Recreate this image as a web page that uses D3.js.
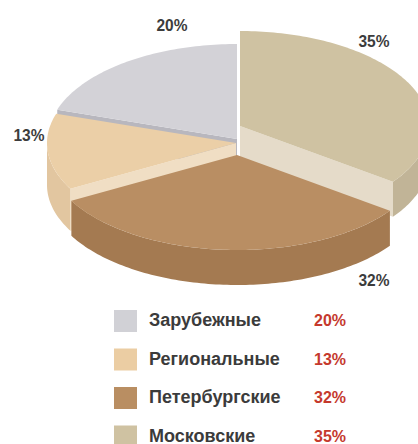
<!DOCTYPE html>
<html>
<head>
<meta charset="utf-8">
<script src="https://cdn.jsdelivr.net/npm/d3@7"></script>
<style>
  html, body { margin: 0; padding: 0; background: #ffffff; }
  svg { display: block; }
</style>
</head>
<body>
<div id="chart"></div>
<script>
// Structure of the readership, shares in percent
const categories = ["Зарубежные", "Региональные", "Петербургские", "Московские"];
const shares = [20, 13, 32, 35];

// Presentation: one entry per category, same order as above
const topColors  = ["#d3d2d7", "#ebcfa7", "#b98e63", "#cfc2a2"];
const wallColors = ["#bebdc3", "#e2c6a0", "#a47a51", "#c1b497"];
const faceColors = ["#b8b7be", "#f0dec4", "#9c744d", "#e5dbc9"];
const legendColors = ["#d1d1d6", "#ebcda3", "#b98e62", "#cfc2a2"];

const W = 418, H = 444;
const pieCx = 237, pieCy = 139, rx = 189, ry = 95;
// per-slice lift/explode and thickness
const sliceShift = [
  { dx: 0,  dy: 0,   depth: 30 },
  { dx: -1, dy: 4,   depth: 42 },
  { dx: 0,  dy: 16,  depth: 35 },
  { dx: 3,  dy: -13, depth: 35 }
];
// painter's order: back to front
const drawOrder = [0, 1, 3, 2];
// label anchors relative to the pie centre
const labelOffset = [[-65, -108], [-208, 2], [137, 147], [137, -92]];

const svg = d3.select("#chart").append("svg")
  .attr("width", W).attr("height", H);

// counter-clockwise from 12 o'clock keeps legend order
const pie = d3.pie().sort(null).startAngle(2 * Math.PI).endAngle(0);
const arcs = pie(shares).map((a, i) => {
  const a0 = Math.min(a.startAngle, a.endAngle);
  const a1 = Math.max(a.startAngle, a.endAngle);
  return { i, a0, a1, value: a.value };
});

function pt(s, t, down) {
  return [pieCx + s.dx + rx * Math.sin(t), pieCy + s.dy - ry * Math.cos(t) + (down || 0)];
}
function arcPts(s, t0, t1, down) {
  const n = Math.max(2, Math.ceil(Math.abs(t1 - t0) / 0.02));
  return d3.range(n + 1).map(k => pt(s, t0 + (t1 - t0) * k / n, down));
}
const line = d3.line().curve(d3.curveLinear);

const g = svg.append("g");

drawOrder.forEach(i => {
  const a = arcs[i];
  const s = sliceShift[i];
  const c = [pieCx + s.dx, pieCy + s.dy];

  // radial side faces facing the viewer
  [[a.a0, -1], [a.a1, 1]].forEach(([t, sign]) => {
    const ny = sign * Math.sin(t);
    if (ny > 1e-6) {
      const e = pt(s, t);
      const quad = [c, e, [e[0], e[1] + s.depth], [c[0], c[1] + s.depth]];
      g.append("path").attr("d", line(quad) + "Z").attr("fill", faceColors[i]);
    }
  });

  // outer wall on the front half
  const w0 = Math.max(a.a0, Math.PI / 2), w1 = Math.min(a.a1, 3 * Math.PI / 2);
  if (w1 > w0) {
    const topEdge = arcPts(s, w0, w1, 0);
    const botEdge = arcPts(s, w1, w0, s.depth);
    g.append("path").attr("d", line(topEdge.concat(botEdge)) + "Z")
      .attr("fill", wallColors[i]);
  }

  // top surface
  const topPts = [c].concat(arcPts(s, a.a0, a.a1, 0));
  g.append("path").attr("d", line(topPts) + "Z").attr("fill", topColors[i]);
});

// value labels around the pie
const labelFont = "'Liberation Sans', Arial, sans-serif";
arcs.forEach(a => {
  svg.append("text")
    .attr("x", pieCx + labelOffset[a.i][0])
    .attr("y", pieCy + labelOffset[a.i][1])
    .attr("text-anchor", "middle")
    .attr("font-family", labelFont)
    .attr("font-weight", "bold")
    .attr("font-size", 17)
    .attr("textLength", 31)
    .attr("lengthAdjust", "spacingAndGlyphs")
    .attr("fill", "#3c3c3c")
    .text(a.value + "%");
});

// legend
const legendY = d3.scaleLinear().domain([0, 3]).range([310, 425.5]);
const legend = svg.append("g");
categories.forEach((name, i) => {
  const y = legendY(i);
  legend.append("rect")
    .attr("x", 114).attr("y", y).attr("width", 23).attr("height", 22)
    .attr("fill", legendColors[i]);
  legend.append("text")
    .attr("x", 149).attr("y", y + 16)
    .attr("font-family", labelFont)
    .attr("font-weight", "bold")
    .attr("font-size", 18)
    .attr("fill", "#3b3b3b")
    .text(name);
  legend.append("text")
    .attr("x", 346).attr("y", y + 16)
    .attr("text-anchor", "end")
    .attr("font-family", labelFont)
    .attr("font-weight", "bold")
    .attr("font-size", 17)
    .attr("textLength", 32)
    .attr("lengthAdjust", "spacingAndGlyphs")
    .attr("fill", "#c5392d")
    .text(shares[i] + "%");
});
</script>
</body>
</html>
